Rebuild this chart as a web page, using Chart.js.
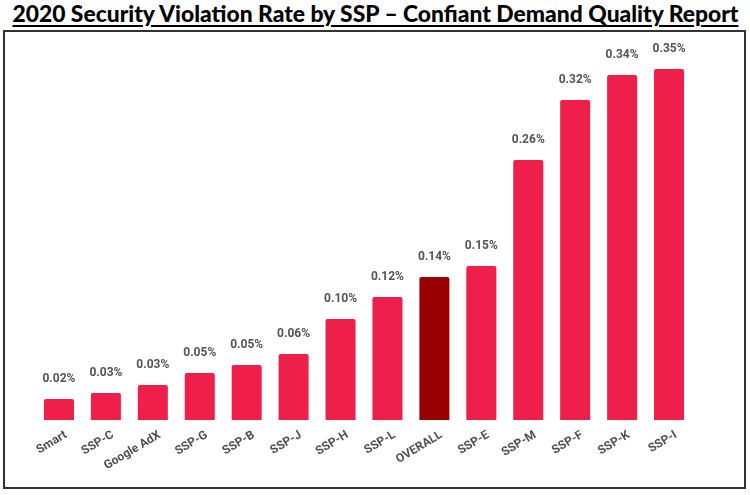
<!DOCTYPE html>
<html>
<head>
<meta charset="utf-8">
<script src="https://cdn.jsdelivr.net/npm/chart.js@4.4.0/dist/chart.umd.min.js"></script>
<style>
  html, body { margin: 0; padding: 0; background: #fff; }
  #wrap { position: relative; width: 750px; height: 495px; overflow: hidden; }
  #title { position: absolute; left: 0; top: 0px; width: 750px; text-align: center;
    font-family: Lato, "Open Sans", sans-serif; font-weight: 900; font-size: 23px;
    color: #000; white-space: nowrap; line-height: 26px; }
  #title span { display: inline-block; text-decoration: underline; text-decoration-thickness: 2px;
    text-underline-offset: 3px; transform-origin: center; }
  #frame { position: absolute; left: 3px; top: 30px; width: 739px; height: 455px;
    border: 2px solid #333; }
  #c { position: absolute; left: 0; top: 0; }
</style>
</head>
<body>
<div id="wrap">
  <div id="title"><span id="tspan">2020 Security Violation Rate by SSP – Confiant Demand Quality Report</span></div>
  <div id="frame"></div>
  <canvas id="c" width="750" height="495"></canvas>
</div>
<script>
const categories = ["Smart", "SSP-C", "Google AdX", "SSP-G", "SSP-B", "SSP-J", "SSP-H", "SSP-L", "OVERALL", "SSP-E", "SSP-M", "SSP-F", "SSP-K", "SSP-I"];
const values = [0.021, 0.027, 0.035, 0.047, 0.055, 0.066, 0.101, 0.123, 0.143, 0.154, 0.260, 0.320, 0.345, 0.351];
const valueLabels = ["0.02%", "0.03%", "0.03%", "0.05%", "0.05%", "0.06%", "0.10%", "0.12%", "0.14%", "0.15%", "0.26%", "0.32%", "0.34%", "0.35%"];
const highlight = "OVERALL";

// fit title width
(function(){
  const s = document.getElementById('tspan');
  const w = s.getBoundingClientRect().width;
  const target = 726;
  s.style.transform = 'scaleX(' + (target / w) + ')';
})();

const barColors = categories.map(c => c === highlight ? '#990000' : '#EF1F4C');

const valueLabelPlugin = {
  id: 'valueLabels',
  afterDatasetsDraw(chart) {
    const ctx = chart.ctx;
    const meta = chart.getDatasetMeta(0);
    ctx.save();
    ctx.font = 'bold 12px Roboto';
    ctx.fillStyle = '#555555';
    ctx.textAlign = 'center';
    ctx.textBaseline = 'middle';
    meta.data.forEach((bar, i) => {
      ctx.fillText(valueLabels[i], bar.x, bar.y - 20);
    });
    ctx.restore();
  }
};

new Chart(document.getElementById('c'), {
  type: 'bar',
  data: {
    labels: categories,
    datasets: [{
      data: values,
      backgroundColor: barColors,
      borderRadius: 2,
      borderSkipped: 'bottom',
      categoryPercentage: 0.8,
      barPercentage: 0.8
    }]
  },
  options: {
    responsive: false,
    animation: false,
    layout: { padding: { left: 35.5, right: 57.5, top: 40, bottom: 0 } },
    plugins: { legend: { display: false }, tooltip: { enabled: false }, title: { display: false } },
    scales: {
      y: { display: false, min: 0, max: 0.38 },
      x: {
        grid: { display: false, drawTicks: false },
        border: { display: false },
        ticks: {
          font: { family: 'Roboto', weight: 'bold', size: 12 },
          color: '#505050',
          minRotation: 31,
          maxRotation: 31,
          padding: 8,
          labelOffset: 7,
          autoSkip: false
        },
        afterFit(scale) { scale.height = 75; }
      }
    }
  },
  plugins: [valueLabelPlugin]
});
</script>
</body>
</html>
